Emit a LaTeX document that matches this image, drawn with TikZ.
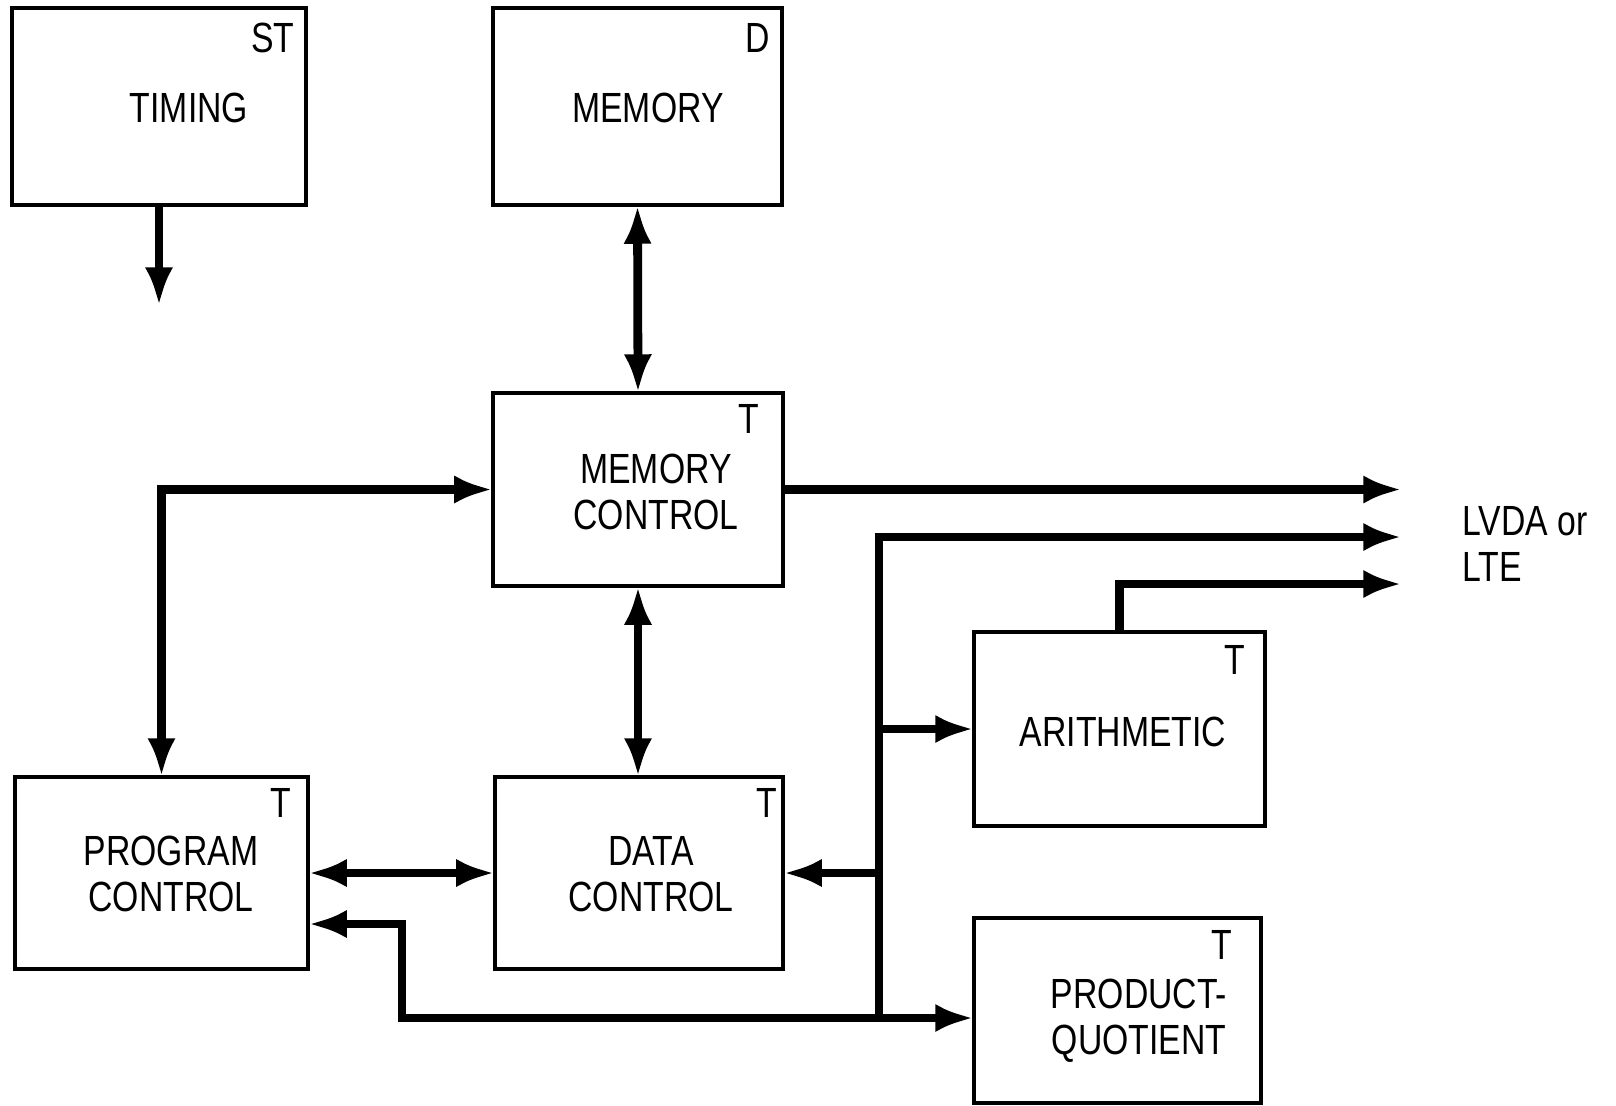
\documentclass[tikz,border=0pt]{standalone}
\usepackage{fontspec}
\setmainfont{Liberation Sans}[FakeStretch=0.8]
\usetikzlibrary{arrows.meta}

\tikzset{
  blk/.style={draw, line width=1.2pt, inner sep=0pt, outer sep=0pt},
  txt/.style={align=center, font=\fontsize{12}{13}\selectfont},
  tag/.style={font=\fontsize{12}{13}\selectfont},
  wire/.style={line width=2.5pt, >={Latex[length=11pt,width=8pt]}},
}

\begin{document}
\begin{tikzpicture}[x=0.01cm, y=-0.01cm]
  \useasboundingbox (0,0) rectangle (1616,1105);

  \node[blk, minimum width=2.94cm, minimum height=1.97cm] (tim) at (159,106.5) {};
  \node[blk, minimum width=2.89cm, minimum height=1.97cm] (mem) at (637.5,106.5) {};
  \node[blk, minimum width=2.90cm, minimum height=1.93cm] (mc) at (638,489.5) {};
  \node[blk, minimum width=2.93cm, minimum height=1.92cm] (pc) at (161.5,873) {};
  \node[blk, minimum width=2.88cm, minimum height=1.92cm] (dc) at (639,873) {};
  \node[blk, minimum width=2.91cm, minimum height=1.94cm] (ar) at (1119.5,729) {};
  \node[blk, minimum width=2.87cm, minimum height=1.85cm] (pq) at (1117.5,1010.5) {};

  \node[txt] (timtxt) at (189,108) {TIMING};
  \node[txt] (memtxt) at (648,108) {MEMORY};
  \node[txt] (mctxt) at (656,492) {MEMORY\\CONTROL};
  \node[txt] (pctxt) at (171,874) {PROGRAM\\CONTROL};
  \node[txt] (dctxt) at (651,874) {DATA\\CONTROL};
  \node[txt] (artxt) at (1123,732) {ARITHMETIC};
  \node[txt] (pqtxt) at (1139,1021) {PRODUCT-\\QUOTIENT};
  \node[txt, align=left, anchor=west] (lvda) at (1450,544) {LVDA or\\LTE};

  \node[tag] (timtag) at (273,38) {ST};
  \node[tag] (memtag) at (758,38) {D};
  \node[tag] (mctag) at (749,419) {T};
  \node[tag] (pctag) at (281,803) {T};
  \node[tag] (dctag) at (767,803) {T};
  \node[tag] (artag) at (1235,660) {T};
  \node[tag] (pqtag) at (1222,945) {T};

  \coordinate (tout) at (158,306);
  \coordinate (out1) at (1402,492);
  \coordinate (out2) at (1402,537);
  \coordinate (out3) at (1402,584);
  \coordinate (bb) at (879,1018);
  \coordinate (jog) at (402,1018);

  \draw[wire,->] (tim.south) -- (tim.south |- tout);
  \draw[wire,<->] (mem.south) -- (mc.north);
  \draw[wire,<->] (mc.south) -- (mc.south |- dc.north);
  \draw[wire,<->] (mc.west) -| (pc.north);
  \draw[wire,->] (mc.east) -- (mc.east -| out1);
  \draw[wire,->] (bb) |- (out2);
  \draw[wire,->] (ar.north) |- (out3);
  \draw[wire,->] (bb |- ar.west) -- (ar.west);
  \draw[wire,->] (bb |- dc.east) -- (dc.east);
  \draw[wire,<->] (pc.east) -- (dc.west);
  \draw[wire,<->] ([shift={(0,51)}]pc.east) -| (jog) -- (jog -| pq.west);
\end{tikzpicture}
\end{document}
